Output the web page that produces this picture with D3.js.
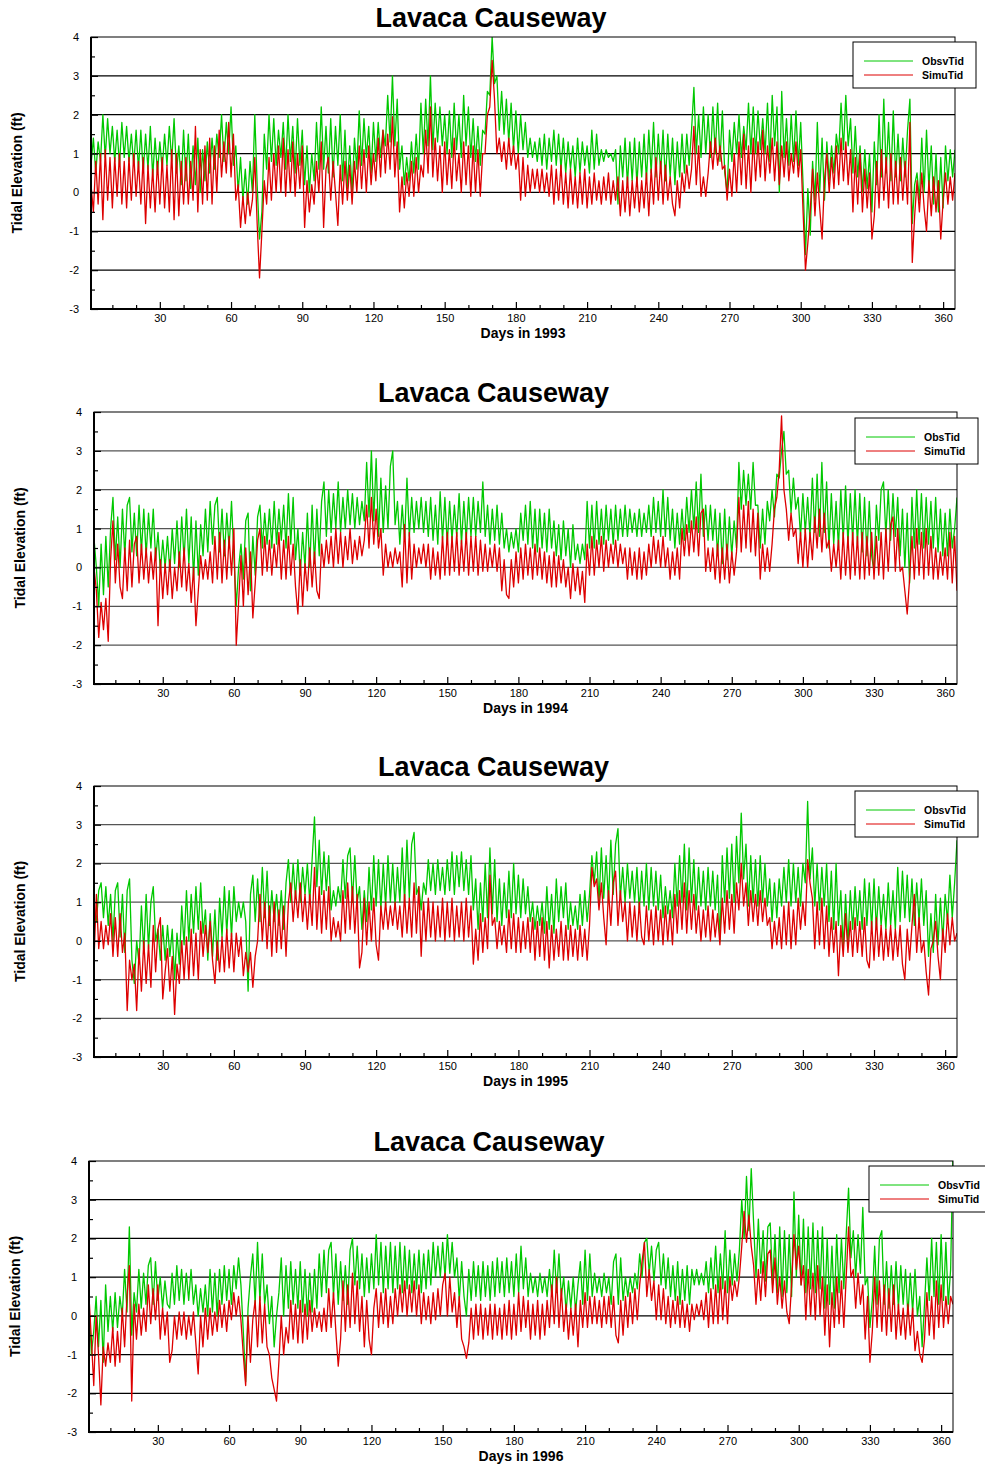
<!DOCTYPE html>
<html>
<head>
<meta charset="utf-8">
<script src="https://cdn.jsdelivr.net/npm/d3@7"></script>
<style>
  body { margin: 0; background: #fff; }
  svg { display: block; font-family: Arial, "Liberation Sans", sans-serif; }
</style>
</head>
<body>
<svg width="985" height="1468"></svg>
<script>
// Données : une valeur par jour (1 à 365), en pieds
const title = "Lavaca Causeway";
const xTicks = [30, 60, 90, 120, 150, 180, 210, 240, 270, 300, 330, 360];
const yTicks = [-3, -2, -1, 0, 1, 2, 3, 4];
const obsNames = ["ObsvTid", "ObsTid", "ObsvTid", "ObsvTid"];
const simName = "SimuTid";

const obs1993 = [
  0.7, 1.4, 0.5, 1.3, 0.8, 2.0, 0.9, 1.9, 1.0, 1.7,
  0.8, 1.6, 0.7, 1.8, 0.9, 1.7, 0.8, 1.5, 0.7, 1.6,
  0.6, 1.6, 0.5, 1.5, 0.6, 1.7, 0.4, 1.4, 0.5, 1.3,
  0.6, 1.5, 0.7, 1.7, 0.8, 1.9, 0.5, 1.2, 0.2, 1.6,
  0.3, 1.5, 0.1, 1.2, 0.2, 1.4, 0.0, 1.1, 0.3, 1.3,
  0.5, 1.4, 0.6, 1.5, 0.9, 2.0, 0.8, 1.8, 1.0, 2.2,
  0.7, 1.2, 0.0, 0.9, -0.2, 0.6, -0.3, 0.8, 0.0, 2.0,
  0.2, -1.2, -0.5, 1.5, 0.6, 2.0, 0.8, 1.9, 0.7, 1.6,
  0.9, 1.8, 0.6, 2.0, 0.8, 1.7, 0.5, 1.9, 0.7, 1.6,
  0.2, 1.2, 0.0, 1.0, 0.3, 1.8, 0.6, 2.2, 0.6, 1.7,
  0.5, 1.9, 0.4, 1.7, 0.7, 2.0, 0.3, 1.6, 0.1, 1.2,
  0.0, 1.4, 0.6, 2.1, 0.7, 1.9, 0.9, 1.7, 0.5, 1.8,
  0.8, 1.8, 0.9, 1.6, 1.2, 2.5, 1.3, 3.0, 1.2, 2.4,
  0.6, 1.2, 0.2, 0.9, 0.3, 1.3, 0.5, 1.5, 0.6, 2.3,
  1.0, 2.4, 1.2, 3.0, 1.1, 2.3, 1.3, 2.2, 1.2, 2.0,
  1.0, 2.1, 0.9, 2.3, 1.1, 2.0, 0.9, 2.5, 1.2, 2.2,
  0.9, 1.9, 0.8, 1.7, 0.7, 1.6, 1.5, 2.6, 2.5, 4.0,
  2.8, 3.0, 1.6, 2.6, 1.5, 2.4, 1.3, 2.3, 1.1, 2.1,
  1.0, 2.0, 1.1, 1.8, 0.9, 1.4, 0.9, 1.3, 0.8, 1.4,
  0.7, 1.5, 0.6, 1.4, 0.8, 1.6, 0.7, 1.5, 0.6, 1.4,
  0.5, 1.3, 0.6, 1.2, 0.4, 1.4, 0.5, 1.3, 0.7, 1.2,
  0.5, 1.6, 0.6, 1.5, 0.7, 1.1, 0.8, 1.1, 0.9, 1.0,
  0.8, 1.1, -0.3, 1.2, 0.4, 1.4, 0.2, 1.3, 0.3, 1.4,
  0.2, 1.3, 0.4, 1.5, 0.3, 1.6, 0.5, 1.8, 0.4, 1.5,
  0.5, 1.6, 0.3, 1.5, 0.4, 1.4, 0.2, 1.3, 0.4, 1.5,
  0.5, 1.5, 0.7, 1.6, 2.7, 1.0, 2.0, 0.9, 2.2, 1.0,
  2.0, 0.9, 2.2, 1.0, 2.3, 0.8, 2.1, 0.5, 0.0, 1.6,
  0.8, 1.8, 1.0, 2.0, 0.9, 1.7, 1.1, 2.3, 1.0, 2.2,
  1.0, 2.1, 1.1, 1.9, 1.0, 2.3, 0.8, 2.5, 1.2, 2.2,
  0.0, 2.6, 0.9, 1.9, 0.7, 2.0, 0.8, 2.1, 0.7, 1.8,
  0.2, -1.6, 0.1, -1.1, 0.8, -0.2, 1.8, 0.0, 1.4, -0.2,
  1.3, 0.3, 1.2, 0.5, 1.5, 1.0, 2.3, 1.1, 2.5, 1.2,
  1.9, 0.5, 1.7, 0.4, 1.2, 0.0, 1.1, 0.1, 1.0, -0.5,
  1.3, 0.2, 2.0, 0.4, 2.4, 0.5, 1.8, 0.3, 2.1, 0.4,
  1.5, 0.3, 1.4, 0.4, 1.6, 2.4, -0.8, 0.2, 0.5, -0.2,
  1.4, 0.0, 1.6, 0.1, 1.2, -0.3, 1.0, -0.5, 0.9, -0.4,
  1.2, 0.3, 1.1, 0.4, 1.1
];
const sim1993 = [
  0.2, -0.5, 0.8, -0.3, 1.0, -0.7, 1.1, -0.2, 0.9, -0.4,
  0.9, -0.1, 1.0, -0.3, 0.8, -0.4, 0.9, -0.2, 1.0, -0.1,
  0.8, -0.3, 0.9, -0.8, 0.7, -0.4, 0.6, -0.5, 0.8, -0.3,
  0.9, -0.4, 0.7, -0.5, 1.1, -0.7, 1.0, -0.6, 0.8, -0.3,
  0.9, -0.3, 0.8, -0.2, 1.7, -0.5, 1.1, -0.3, 1.2, -0.2,
  1.4, -0.3, 1.2, 0.0, 1.6, 0.4, 1.3, 0.5, 1.8, 0.4,
  1.5, -0.2, 0.2, -0.9, -0.1, -0.8, 0.0, -0.6, -0.2, 0.9,
  -0.8, -2.2, -1.0, 0.3, -0.3, 0.9, -0.2, 1.0, 0.0, 1.2,
  0.0, 1.4, -0.1, 1.1, 0.0, 1.3, -0.1, 1.0, 0.1, 1.2,
  -0.9, 0.3, -0.5, 0.2, -0.3, 0.8, 0.0, 1.3, -0.9, 0.6,
  0.9, -0.2, 0.8, 0.0, -0.85, 0.7, -0.3, 0.8, -0.2, 0.7,
  -0.3, 0.8, 0.0, 1.2, 0.1, 1.1, 0.0, 1.2, 0.2, 1.0,
  0.3, 1.4, 0.4, 1.6, 0.5, 1.5, 0.6, 1.95, 0.4, 1.3,
  -0.5, 0.4, -0.4, 0.5, -0.1, 0.8, -0.1, 0.9, 0.0, 0.7,
  0.4, 1.6, 0.5, 2.2, 0.4, 1.4, 0.3, 1.2, 0.0, 1.3,
  0.2, 1.1, 0.1, 1.4, 0.3, 1.0, 0.0, 1.3, 0.2, 1.2,
  -0.1, 1.2, 0.0, 1.1, -0.1, 1.0, 1.0, 2.0, 2.2, 3.4,
  2.4, 1.0, 1.4, 0.8, 1.3, 0.6, 1.4, 0.7, 1.2, 0.6,
  1.0, -0.2, 0.9, -0.1, 0.7, 0.0, 0.6, 0.1, 0.6, 0.0,
  0.6, 0.0, 0.5, -0.1, 0.7, -0.3, 0.6, -0.2, 0.7, -0.3,
  0.5, -0.4, 0.6, -0.3, 0.4, -0.4, 0.5, -0.3, 0.6, -0.4,
  0.4, -0.3, 0.5, -0.2, 0.3, -0.3, 0.4, -0.2, 0.5, -0.3,
  0.3, -0.2, 0.4, -0.6, 0.3, -0.5, 0.4, -0.6, 0.3, -0.4,
  0.4, -0.5, 0.3, -0.4, 0.5, -0.6, 0.6, -0.3, 0.9, -0.2,
  0.8, -0.3, 0.7, -0.2, 0.4, -0.3, -0.6, 0.3, -0.4, 0.5,
  0.0, 0.7, 0.1, 0.6, 1.7, 0.2, 1.2, -0.1, 0.4, -0.1,
  0.5, 1.3, 0.6, 1.4, 0.7, 1.2, 0.6, 0.7, -0.2, 0.6,
  -0.1, 1.0, 0.0, 1.3, 0.2, 1.5, 0.1, 1.2, 0.0, 1.4,
  0.3, 1.3, 0.4, 1.6, 0.3, 1.2, 0.5, 1.4, 0.3, 1.3,
  0.2, 1.2, 0.4, 1.3, 0.3, 1.0, 0.5, 1.3, 0.4, 1.1,
  -0.5, -2.0, -1.3, -0.5, 0.6, -0.6, 0.5, -0.4, -1.2, 0.3,
  1.0, 0.0, 0.9, 0.1, 1.2, 0.2, 1.4, 0.3, 1.3, 0.2,
  1.1, -0.5, 0.9, -0.3, 1.0, -0.5, 0.6, -0.4, 0.5, -1.2,
  -0.6, 0.8, -0.4, 1.1, -0.2, 0.9, -0.4, 1.0, -0.3, 0.8,
  -0.3, 0.9, -0.2, 0.8, -0.3, 1.8, -1.8, -0.6, 0.3, -0.5,
  0.5, -0.4, -1.0, 0.3, -0.6, 0.4, -0.5, 0.3, -1.2, -0.2,
  0.5, -0.3, 0.4, -0.2, 0.5
];

const obs1994 = [
  0.75, 0.0, -1.0, 0.6, -0.7, 0.8, -0.5, 1.0, 1.8, 0.2,
  1.3, 0.0, 1.5, 0.3, 1.6, 1.8, 0.4, 1.4, 0.3, 1.6,
  0.4, 1.5, 0.3, 1.4, 0.5, 1.5, 0.2, 0.9, -0.1, 0.7,
  0.0, 0.8, -0.1, 1.0, 0.1, 1.2, 0.0, 1.3, 0.2, 1.5,
  0.1, 1.3, -0.3, 1.2, -0.2, 1.1, 0.3, 1.5, 0.4, 1.7,
  0.6, 1.6, 1.8, 0.4, 1.5, 0.3, 1.4, 0.5, 1.7, 0.3,
  -1.0, 0.0, 0.6, -0.3, 1.2, 1.4, -0.6, 0.8, -0.2, 1.3,
  1.6, 0.5, 1.4, 0.6, 1.5, 0.5, 1.7, 0.6, 1.5, 0.7,
  1.6, 0.5, 1.9, 0.6, 1.8, 0.2, 1.0, -0.2, 0.9, 0.0,
  1.4, 0.0, 1.6, 0.1, 1.5, 0.3, 1.7, 2.2, 0.8, 2.0,
  0.9, 1.9, 1.0, 2.2, 0.9, 1.8, 1.0, 2.0, 1.1, 1.9,
  1.0, 1.8, 1.1, 1.7, 1.2, 2.7, 1.3, 3.0, 1.2, 2.8,
  0.8, 2.3, 0.9, 2.1, 1.0, 2.6, 3.0, 1.1, 1.7, 0.6,
  1.6, 0.7, 2.3, 0.8, 1.8, 0.9, 1.7, 1.0, 1.8, 0.9,
  1.7, 0.8, 1.8, 0.7, 1.6, 0.6, 1.95, 0.7, 1.8, 0.6,
  1.7, 0.7, 1.6, 0.8, 1.9, 0.6, 1.7, 0.7, 1.8, 0.8,
  1.8, 0.8, 1.7, 0.9, 2.2, 0.8, 1.6, 0.6, 1.5, 0.7,
  1.6, 0.6, 1.4, 0.5, 1.0, 0.4, 0.9, 0.5, 1.0, 0.4,
  1.4, 0.7, 1.6, 0.6, 1.7, 0.5, 1.5, 0.4, 1.5, 0.5,
  1.4, 0.4, 1.5, 0.5, 1.2, 0.3, 1.1, 0.2, 1.2, 0.3,
  1.0, 0.0, 1.1, 0.2, 0.6, 0.1, 0.6, 0.2, 1.7, 0.5,
  1.6, 0.5, 1.7, 0.6, 1.5, 0.6, 1.6, 0.7, 1.5, 0.6,
  1.6, 0.7, 1.5, 0.8, 1.6, 0.8, 1.5, 0.9, 1.4, 0.8,
  1.5, 0.8, 1.4, 0.9, 1.6, 0.8, 1.8, 0.9, 1.7, 0.8,
  2.0, 0.8, 1.8, 0.7, 1.5, 0.5, 1.4, 0.6, 1.5, 0.7,
  1.8, 0.9, 2.0, 1.0, 2.2, 0.9, 2.4, 0.8, 1.6, 0.7,
  1.6, 0.7, 1.5, 0.3, 1.4, 0.1, 1.5, 0.2, 1.3, 0.3,
  1.2, 0.5, 2.7, 1.5, 2.5, 1.6, 2.4, 1.5, 2.7, 1.6,
  1.6, 0.5, 1.5, 0.6, 1.7, 1.2, 2.0, 1.3, 2.4, 2.3,
  3.0, 3.5, 2.4, 2.5, 1.4, 2.3, 1.5, 1.8, 0.8, 1.9,
  0.9, 1.8, 0.8, 2.3, 0.9, 2.4, 0.8, 2.7, 0.9, 2.2,
  0.5, 1.9, 0.6, 1.7, 0.5, 2.0, 0.7, 2.1, 0.6, 1.9,
  0.7, 2.0, 0.6, 1.9, 0.4, 1.8, 0.3, 1.7, 0.3, -0.1,
  1.6, 0.7, 2.0, 2.2, 0.8, 2.0, 0.7, 1.9, 0.8, 1.8,
  0.3, 1.5, 0.0, 1.4, -0.4, 1.8, 0.5, 2.0, 0.6, 1.9,
  0.5, 1.8, 0.6, 1.7, 0.5, 1.8, 0.4, 1.5, 0.3, 1.4,
  0.3, 1.5, 0.5, 1.0, 1.8
];
const sim1994 = [
  0.0, -0.6, -1.8, -0.9, -1.6, -0.8, -1.9, 0.2, 1.2, -0.4,
  0.6, -0.5, -0.8, 0.5, -0.6, 0.7, -0.5, 0.6, 0.8, -0.4,
  0.6, -0.3, 0.5, -0.4, 0.4, -0.3, 0.5, -1.5, 0.2, -0.8,
  0.1, -0.7, 0.2, -0.8, 0.0, -0.6, 0.4, -0.5, 0.5, -0.6,
  0.1, -0.9, 0.0, -1.5, -0.6, 0.3, -0.3, 0.2, -0.3, 0.4,
  -0.4, 0.8, -0.3, 0.9, -0.4, 0.7, -0.3, 0.8, -0.2, 1.0,
  -2.0, -0.9, 0.3, -1.0, 0.5, -0.7, 0.4, -1.3, -0.4, 0.7,
  1.0, -0.2, 0.8, -0.1, 0.7, -0.2, 0.6, 0.0, 0.9, -0.3,
  0.7, -0.3, 0.8, -0.2, 0.6, -0.5, -1.2, 0.2, -1.0, 0.1,
  -0.6, 0.5, -0.5, 0.4, -0.6, -0.8, 0.6, 0.0, 0.7, 0.1,
  0.8, 0.0, 1.0, 0.1, 0.9, 0.0, 0.8, 0.2, 1.0, 0.1,
  0.7, 0.2, 0.8, 0.3, 0.7, 1.6, 0.5, 1.8, 0.6, 1.5,
  0.5, 1.0, -0.2, 0.6, 0.0, 0.4, 0.0, 0.5, 0.1, 0.4,
  -0.5, 1.1, -0.4, 0.9, -0.3, 0.6, 0.0, 0.5, 0.1, 0.6,
  0.0, 0.6, -0.3, 0.5, -0.2, 0.4, -0.3, 0.8, -0.2, 0.9,
  -0.2, 0.8, -0.1, 0.9, -0.2, 0.7, -0.1, 0.9, -0.2, 0.8,
  -0.1, 0.8, -0.2, 0.7, -0.1, 0.6, -0.1, 0.5, 0.0, 0.6,
  -0.1, 0.5, -0.6, 0.2, -0.7, -0.8, 0.2, -0.5, 0.4, -0.4,
  0.5, -0.3, 0.6, -0.2, 0.5, -0.3, 0.6, -0.2, 0.5, -0.3,
  0.4, -0.4, 0.3, -0.5, 0.4, -0.5, 0.3, -0.4, 0.2, -0.5,
  0.0, -0.8, 0.1, -0.6, 0.0, -0.7, -0.1, -0.9, 0.6, -0.2,
  0.8, -0.2, 0.7, 0.0, 0.8, -0.1, 0.7, 0.0, 0.6, 0.1,
  0.7, 0.0, 0.6, 0.1, 0.5, -0.3, 0.5, -0.2, 0.4, -0.3,
  0.5, -0.3, 0.4, -0.2, 0.6, 0.0, 0.8, 0.1, 0.7, 0.0,
  0.8, 0.0, 0.5, -0.3, 0.4, -0.2, 0.5, -0.3, 1.0, 0.3,
  1.1, 0.3, 1.2, 0.4, 1.3, 0.3, 1.4, 1.5, -0.1, 0.5,
  -0.1, 0.5, -0.3, 0.6, -0.4, 0.5, -0.3, 0.6, -0.4, 0.4,
  -0.2, 0.4, 1.8, 0.4, 1.6, 0.5, 1.7, 0.4, 1.5, 0.3,
  1.4, -0.3, 0.6, -0.1, 0.5, -0.1, 0.6, 1.5, 1.8, 2.5,
  3.9, 2.0, 1.5, 0.7, 1.4, 0.8, 1.0, 0.1, 0.9, 0.0,
  1.0, 0.0, 0.9, 0.2, 1.3, 0.5, 1.5, 0.4, 1.4, 0.5,
  0.7, -0.1, 0.6, 0.0, 0.7, -0.3, 0.9, -0.2, 0.8, -0.3,
  0.9, -0.2, 0.8, -0.3, 0.9, -0.3, 0.8, -0.2, 0.9, -0.3,
  0.8, -0.2, 0.9, -0.3, 1.0, -0.1, 1.1, 1.3, -0.1, 1.0,
  -0.1, 0.0, -0.6, -1.2, -0.3, 0.8, -0.3, 1.0, -0.2, 0.9,
  -0.3, 1.0, -0.2, 0.8, -0.3, 0.5, -0.3, 0.4, -0.2, 0.5,
  -0.3, 0.9, -0.4, 0.8, -0.6
];

const obs1995 = [
  0.9, 0.5, 1.3, 1.5, 0.6, 1.4, 0.4, 1.2, 0.0, 1.3,
  1.5, 0.1, 1.2, -0.3, 1.3, 1.6, -0.5, -1.1, 0.0, -0.6,
  0.9, -0.3, 1.2, -0.2, 1.0, 1.4, 0.0, 0.3, -0.5, 0.4,
  -0.5, 0.4, -0.4, 0.3, -1.0, 0.2, -0.6, 0.9, -0.1, 1.3,
  0.0, 1.2, 0.2, 1.4, 0.3, 1.5, 0.2, 0.8, -0.5, 0.7,
  -0.4, 0.8, -0.5, 1.1, 0.1, 1.4, 0.2, 1.3, 0.1, 1.4,
  0.5, 1.0, 0.6, 1.0, 0.5, -1.3, 1.2, 1.7, 0.5, 1.6,
  0.5, 1.9, 0.6, 1.8, 0.4, 1.3, 0.5, 1.2, 0.4, 1.3,
  0.3, 1.5, 2.1, 1.0, 2.0, 1.1, 2.1, 1.0, 1.9, 1.2,
  2.0, 1.0, 2.1, 3.2, 1.4, 2.6, 1.2, 2.3, 1.3, 2.2,
  0.8, 1.3, 0.9, 1.4, 1.0, 2.1, 1.1, 2.2, 2.4, 1.0,
  2.2, 1.0, 1.4, 0.3, 1.3, 0.5, 1.9, 0.8, 2.2, 0.9,
  2.1, 0.8, 2.0, 0.9, 2.2, 1.0, 2.0, 0.9, 1.9, 1.0,
  2.4, 1.0, 2.6, 1.1, 2.5, 2.8, 1.2, 1.4, 0.8, 1.5,
  1.2, 2.1, 1.3, 2.0, 1.2, 2.1, 1.3, 1.9, 1.2, 2.1,
  1.3, 2.3, 1.2, 2.2, 1.4, 2.3, 1.3, 2.1, 1.2, 2.2,
  0.8, 1.6, 0.3, 1.5, 0.5, 2.0, 0.6, 2.4, 0.7, 2.1,
  0.5, 1.6, 0.4, 1.5, 0.6, 1.8, 0.6, 2.0, 0.7, 1.7,
  0.6, 1.6, 0.7, 1.4, 0.5, 1.0, 0.3, 0.9, 0.4, 1.0,
  0.2, 1.4, 0.3, 1.2, 0.2, 1.6, 0.5, 1.4, 0.6, 1.5,
  0.3, 1.0, 0.4, 0.9, 0.3, 1.2, 0.4, 1.3, 0.5, 1.2,
  2.2, 1.5, 2.3, 1.0, 2.4, 1.1, 2.2, 1.0, 2.6, 1.2,
  2.5, 2.9, 1.1, 1.9, 1.0, 2.0, 1.1, 1.8, 1.0, 1.9,
  0.8, 1.8, 0.9, 2.0, 0.8, 1.9, 0.9, 1.8, 0.8, 1.7,
  0.6, 1.4, 0.7, 1.3, 0.6, 2.0, 0.9, 2.2, 1.0, 2.5,
  0.8, 2.4, 1.0, 2.1, 0.8, 1.9, 0.9, 1.8, 0.8, 1.9,
  0.9, 1.8, 0.8, 1.7, 0.0, 2.2, 1.0, 2.4, 1.1, 2.5,
  1.0, 2.7, 1.5, 3.3, 1.6, 2.5, 0.9, 2.2, 1.0, 2.1,
  0.9, 2.2, 1.0, 2.0, 0.9, 1.6, 0.5, 1.5, 0.6, 1.6,
  0.9, 1.9, 1.0, 2.1, 0.9, 2.0, 1.0, 1.9, 0.9, 2.0,
  1.5, 3.6, 1.6, 2.4, 0.9, 2.0, 0.8, 1.9, 0.9, 2.0,
  0.5, 1.8, 0.3, 2.0, 0.4, 1.3, -0.2, 1.2, -0.1, 1.3,
  0.3, 1.4, 0.4, 1.3, 0.3, 1.6, 0.4, 1.5, 0.3, 1.6,
  0.3, 1.4, 0.4, 1.2, 0.3, 1.5, 0.4, 1.3, 0.3, 1.9,
  0.5, 1.8, 0.6, 1.7, 0.5, 1.6, 0.4, 1.5, 0.5, 1.6,
  0.4, 1.3, -0.4, 0.7, -0.3, 1.2, -0.1, 1.1, 0.0, 1.2,
  0.5, 1.7, 0.6, 1.5, 2.6
];
const sim1995 = [
  -0.5, 1.2, -0.2, 0.5, -0.2, 0.4, -0.1, 0.7, -0.4, 0.6,
  -0.4, 0.7, -0.3, 0.2, -1.8, -0.5, -1.0, -0.6, -1.8, -0.2,
  -1.3, 0.0, -1.1, -0.1, -1.2, 0.4, -0.8, 0.3, 0.6, -1.5,
  -0.8, -0.2, -1.3, -0.4, -1.9, -0.6, -1.1, 0.0, -1.0, 0.1,
  -1.0, 0.3, -0.9, 0.2, -1.0, 0.5, -0.4, 0.4, -0.3, 0.5,
  -0.5, -1.1, 0.0, -0.8, 0.1, -0.8, 0.3, -0.7, 0.2, -0.8,
  0.2, -0.4, 0.1, -0.9, -0.3, -0.8, -0.3, -1.2, -0.4, 0.0,
  1.2, 0.0, 1.0, -0.2, 0.9, -0.4, 1.0, -0.3, 0.8, -0.2,
  0.9, -0.4, 1.0, 1.5, 0.5, 1.3, 0.6, 1.5, 0.5, 1.2,
  0.3, 1.2, 0.4, 1.9, 0.3, 1.4, 0.2, 1.3, 0.3, 1.4,
  0.0, 0.6, 0.1, 0.5, 0.0, 1.3, 0.2, 1.5, 0.3, 1.4,
  0.2, 1.2, -0.7, -0.3, 1.1, -0.1, 1.0, 0.0, 1.1, -0.1,
  -0.5, 0.9, 0.3, 1.0, 0.3, 0.9, 0.4, 1.0, 0.3, 0.9,
  0.1, 1.2, 0.2, 1.1, 0.1, 1.5, 0.2, 1.4, -0.4, 1.0,
  0.0, 1.1, 0.1, 1.0, 0.0, 0.9, 0.1, 1.1, 0.0, 1.0,
  0.1, 1.1, 0.0, 0.9, 0.1, 1.0, 0.0, 1.1, 0.1, 0.9,
  -0.6, 0.3, -0.5, 0.7, -0.3, 0.6, -0.2, 1.7, 0.4, 0.6,
  -0.2, 0.5, -0.1, 0.4, -0.3, 0.8, -0.2, 0.7, -0.3, 0.6,
  -0.3, 0.5, -0.2, 0.6, -0.3, 0.6, -0.5, 0.5, -0.4, 0.6,
  -0.5, 0.5, -0.7, 0.4, -0.5, 0.3, -0.4, 0.5, -0.5, 0.4,
  -0.5, 0.4, -0.4, 0.3, -0.5, 0.4, -0.4, 0.3, -0.5, 0.4,
  1.9, 1.4, 1.6, 0.8, 1.5, 0.6, -0.1, 1.3, 0.4, 1.5,
  1.8, 0.4, 1.3, 0.5, 1.0, 0.0, 1.0, 0.1, 0.9, 0.0,
  1.0, 0.1, -0.1, 0.9, 0.0, 0.8, -0.1, 0.9, 0.0, 0.8,
  -0.1, 0.9, 0.0, 0.8, -0.1, 1.2, 0.2, 1.3, 0.3, 1.5,
  0.2, 1.3, 0.3, 1.2, 0.2, 0.9, 0.0, 0.8, 0.1, 0.9,
  0.0, 0.8, 0.1, 0.7, -0.1, 1.1, 0.2, 1.3, 0.3, 1.2,
  0.2, 1.5, 0.8, 2.0, 0.9, 1.5, 0.4, 1.3, 0.5, 1.2,
  0.4, 1.3, 0.5, 1.1, 0.4, 0.6, -0.2, 0.5, -0.1, 0.6,
  -0.2, 0.9, -0.1, 1.0, -0.2, 0.8, -0.1, 1.1, 0.3, 1.0,
  0.4, 2.1, 1.5, 1.1, -0.2, 1.0, -0.1, 1.1, -0.2, 0.9,
  -0.4, 0.6, -0.3, 0.5, -0.9, 0.4, -0.4, 0.7, -0.3, 0.5,
  -0.4, 0.6, -0.3, 0.5, -0.4, 0.6, -0.5, -0.7, 0.5, -0.5,
  0.6, -0.4, 0.4, -0.5, 0.3, -0.4, 0.4, -0.5, 0.3, -0.4,
  0.4, -0.6, -1.0, 0.3, -0.5, 0.4, 1.2, -0.3, 0.6, -0.3,
  0.0, -0.8, -1.4, -0.2, 0.0, 0.5, -0.4, -1.0, 0.3, -0.3,
  0.7, -0.1, 0.6, 0.0, 0.2
];

const obs1996 = [
  0.3, -1.0, -0.4, 0.5, -0.8, 0.4, -1.2, 0.8, -0.4, 0.5,
  -0.4, 0.6, -0.3, 0.5, 0.0, 1.2, 0.1, 2.3, -0.5, 0.6,
  0.1, 1.2, 0.2, 1.1, 0.3, 1.3, 1.5, 0.3, 1.4, 0.4,
  1.0, 0.2, 0.9, 0.3, 0.2, 1.1, 0.3, 1.3, 0.4, 1.2,
  0.3, 1.1, 0.4, 1.2, 0.3, 0.8, 0.0, 0.7, 0.1, 0.8,
  0.0, 1.2, 0.1, 1.1, 0.0, 1.2, 0.3, 1.3, 0.4, 1.2,
  0.3, 1.3, 0.7, 1.5, 0.8, -0.4, -1.7, 0.2, 1.0, 1.6,
  0.3, 1.9, 0.4, 1.6, 0.3, 0.8, -0.2, 0.5, -0.8, 0.0,
  0.6, 1.5, 0.0, 1.3, 0.2, 1.4, 0.3, 1.2, 0.2, 1.4,
  0.1, 1.2, 0.0, 1.1, 0.1, 1.2, 0.2, 1.6, 0.5, 1.7,
  0.6, 1.7, 1.9, 0.5, 1.6, 0.3, 1.4, 0.4, 1.3, 0.3,
  1.7, 2.0, 0.8, 1.8, 0.7, 1.6, 0.5, 1.5, 0.6, 1.6,
  0.7, 2.1, 0.8, 1.9, 0.6, 1.8, 0.7, 1.9, 0.6, 1.8,
  0.7, 1.9, 0.6, 1.8, 0.7, 1.7, 0.6, 1.6, 0.7, 1.7,
  0.6, 1.6, 0.7, 1.7, 0.8, 1.9, 1.0, 1.8, 1.0, 1.9,
  1.0, 2.1, 1.1, 1.9, 1.0, 1.5, 0.4, 1.4, 0.5, 0.0,
  1.2, 0.4, 1.4, 0.5, 1.3, 0.4, 1.4, 0.5, 1.3, 0.4,
  1.4, 0.5, 1.5, 0.6, 1.4, 0.5, 1.5, 0.6, 1.4, 0.5,
  1.6, 0.6, 1.8, 0.7, 1.5, 0.5, 1.1, 0.6, 1.0, 0.5,
  1.1, 0.6, 1.0, 0.5, 1.2, 0.5, 1.7, 0.6, 1.6, 0.5,
  1.0, 0.1, 0.9, 0.2, 1.0, 0.1, 0.8, 1.4, 0.3, 1.7,
  0.4, 1.6, 0.5, 1.1, 0.6, 1.0, 0.5, 1.1, 0.6, 1.0,
  0.3, 1.4, 1.6, 0.3, 1.5, 0.4, 1.0, 0.5, 1.0, 0.6,
  1.1, 0.7, 1.6, 1.0, 1.9, 2.0, 1.1, 1.8, 0.9, 1.7,
  1.9, 0.8, 1.6, 0.7, 1.5, 0.5, 1.3, 0.4, 1.4, 0.3,
  1.2, 0.4, 1.3, 0.3, 1.2, 0.8, 1.2, 0.8, 1.1, 0.8,
  1.4, 0.6, 1.5, 0.7, 1.8, 0.6, 1.6, 0.7, 2.2, 0.6,
  1.7, 0.8, 1.6, 0.9, 1.7, 3.0, 2.0, 3.6, 2.2, 3.8,
  2.4, 1.0, 2.5, 1.1, 2.2, 0.9, 2.3, 2.4, 0.8, 2.1,
  0.6, 2.3, 0.5, 2.2, 0.6, 2.1, 0.5, 3.2, 1.0, 2.6,
  0.8, 2.5, 0.6, 2.3, 0.7, 2.4, 0.6, 2.2, 0.7, 2.3,
  0.2, 2.0, 0.3, 1.8, 0.2, 2.1, 0.6, 2.0, 0.7, 2.1,
  3.3, 1.5, 2.2, 1.0, 2.1, 1.1, 2.8, 0.8, 1.0, -0.3,
  0.4, 1.8, 0.3, 2.0, 2.2, 0.3, 1.4, 0.2, 1.3, 0.3,
  1.4, 0.2, 1.3, 0.3, 1.2, 0.0, 1.1, 0.1, 1.2, 0.0,
  0.5, -0.8, 0.3, 1.5, 0.4, 2.0, 0.5, 1.9, 0.3, 2.1,
  0.4, 1.9, 0.3, 1.2, 4.2
];
const sim1996 = [
  0.5, -0.6, -1.8, 0.0, -1.0, -2.3, -0.8, -1.3, -0.7, -1.2,
  -0.3, -1.3, -0.4, -1.2, 0.2, -0.8, 0.5, 1.3, -2.2, 0.3,
  -0.6, 0.3, -0.5, 0.2, -0.4, 0.8, -0.2, 0.7, -0.1, 0.8,
  -0.6, 0.2, -0.5, 0.1, -1.2, -0.9, 0.0, -0.6, 0.1, -0.5,
  0.1, -0.6, 0.0, -0.5, 0.1, -0.7, -1.5, 0.0, -0.8, 0.2,
  -0.6, 0.2, -0.5, 0.1, -0.4, 0.4, -0.3, 0.3, -0.4, 0.4,
  -0.1, 0.6, 0.0, 0.5, -0.1, -1.0, -1.8, 0.0, -1.2, -0.1,
  0.4, -0.8, 0.5, -0.7, 0.3, -0.8, -1.0, -1.6, -1.9, -2.2,
  -1.2, 0.0, -1.0, -0.3, -0.7, 0.4, -0.6, 0.3, -0.7, 0.4,
  -0.7, 0.3, -0.6, 0.4, -0.4, 0.2, -0.3, 0.1, -0.4, 0.2,
  -0.4, 0.7, -0.3, 0.6, -0.4, -1.3, -0.6, 0.9, -0.4, 0.8,
  -0.3, 1.1, -0.2, 0.9, -0.4, 0.5, -0.8, 0.4, -0.6, -1.0,
  0.2, 0.7, -0.3, 0.6, -0.2, 0.7, -0.3, 0.5, -0.2, 0.7,
  0.0, 0.8, 0.1, 0.9, 0.0, 0.8, 0.1, 0.9, 0.0, 0.8,
  -0.2, 0.6, -0.1, 0.5, -0.2, 0.6, -0.1, 0.7, 0.0, 0.8,
  1.1, 0.0, 1.0, 0.1, 0.6, -0.3, 0.5, -0.6, -0.8, -1.1,
  -0.7, 0.2, -0.6, 0.3, -0.5, 0.3, -0.6, 0.2, -0.5, 0.3,
  -0.6, 0.3, -0.5, 0.2, -0.6, 0.3, -0.5, 0.4, -0.6, 0.3,
  -0.5, 0.6, -0.4, 0.5, -0.3, 0.4, -0.6, 0.3, -0.5, 0.4,
  -0.6, 0.3, -0.5, 0.4, -0.3, 0.8, -0.2, 1.0, -0.3, 0.7,
  -0.4, 0.3, -0.6, 0.2, -0.5, 0.3, -0.8, 0.4, -0.3, 0.6,
  -0.3, 0.5, -0.2, 0.5, -0.2, 0.4, -0.3, 0.5, -0.2, 0.5,
  -0.3, 0.5, -0.5, -0.7, 0.4, -0.5, 0.5, -0.3, 0.6, -0.2,
  0.7, -0.1, 0.8, 1.4, 1.9, 0.5, 1.2, 0.4, 0.9, -0.1,
  0.8, -0.1, 0.7, -0.2, 0.5, -0.3, 0.4, -0.2, 0.5, -0.3,
  0.4, -0.3, 0.3, -0.4, 0.3, -0.1, 0.3, 0.0, 0.4, -0.1,
  0.6, -0.3, 0.7, -0.2, 0.8, -0.2, 1.0, -0.1, 0.9, -0.2,
  1.0, 0.4, 0.9, 0.5, 1.0, 1.8, 2.7, 1.9, 2.6, 1.8,
  1.3, 0.3, 1.2, 0.4, 1.4, 0.5, 1.6, 1.7, 0.6, 1.5,
  0.3, 1.0, 0.2, 0.9, 0.1, -0.2, 0.8, 2.1, 1.2, 1.8,
  0.8, 1.3, -0.1, 1.2, 0.0, 1.1, -0.1, 1.3, 0.0, 1.0,
  -0.5, 0.8, -0.8, 0.6, -0.3, 1.0, -0.2, 0.9, -0.3, 1.0,
  2.3, 1.0, 1.2, 0.2, 1.1, 0.3, 0.8, -0.6, 0.5, -1.2,
  -0.4, 1.0, -0.3, 0.9, -0.4, 0.8, -0.5, 0.7, -0.4, 0.8,
  -0.6, 0.3, -0.5, 0.2, -0.6, 0.3, -0.5, 0.2, -0.9, -0.4,
  -1.0, -1.2, -0.6, 0.6, -0.5, 0.5, -0.6, 0.9, -0.3, 0.8,
  -0.3, 0.5, -0.2, 0.5, 0.3
];

/*----------- Mise en page des 4 graphes ----------- */
const panels = [
  { year: 1993, obs: obs1993, sim: sim1993, left: 91, right: 955, top: 37, bottom: 309, grid: "#000", legend: [853, 42] },
  { year: 1994, obs: obs1994, sim: sim1994, left: 94, right: 957, top: 412, bottom: 684, grid: "#555", legend: [855, 418] },
  { year: 1995, obs: obs1995, sim: sim1995, left: 94, right: 957, top: 786, bottom: 1057, grid: "#555", legend: [855, 791] },
  { year: 1996, obs: obs1996, sim: sim1996, left: 89, right: 953, top: 1161, bottom: 1432, grid: "#000", legend: [869, 1166] },
];

const greenCol = "#00c800";
const redCol = "#dd0000";
const svg = d3.select("svg");

panels.forEach((p, k) => {
  const x = d3.scaleLinear().domain([1, 365]).range([p.left, p.right]);
  const y = d3.scaleLinear().domain([-3, 4]).range([p.bottom, p.top]);
  const g = svg.append("g");

  // titre
  g.append("text")
    .attr("x", (p.left + p.right) / 2 - 32)
    .attr("y", p.top - 10)
    .attr("text-anchor", "middle")
    .attr("font-size", 27)
    .attr("font-weight", "bold")
    .text(title);

  // lignes horizontales aux valeurs entières
  g.selectAll(".grid")
    .data(yTicks.filter((v) => v > -3 && v < 4))
    .join("line")
    .attr("x1", p.left)
    .attr("x2", p.right)
    .attr("y1", (d) => y(d))
    .attr("y2", (d) => y(d))
    .attr("stroke", p.grid)
    .attr("stroke-width", 1.2);

  // zone de clip pour les courbes
  const clipId = "clip" + p.year;
  svg.append("clipPath").attr("id", clipId)
    .append("rect")
    .attr("x", p.left).attr("y", p.top)
    .attr("width", p.right - p.left).attr("height", p.bottom - p.top);

  const line = d3.line()
    .x((d, i) => x(i + 1))
    .y((d) => y(d));

  g.append("path")
    .datum(p.obs)
    .attr("clip-path", "url(#" + clipId + ")")
    .attr("fill", "none")
    .attr("stroke", greenCol)
    .attr("stroke-width", 1.3)
    .attr("stroke-linejoin", "round")
    .attr("d", line);

  g.append("path")
    .datum(p.sim)
    .attr("clip-path", "url(#" + clipId + ")")
    .attr("fill", "none")
    .attr("stroke", redCol)
    .attr("stroke-width", 1.3)
    .attr("stroke-linejoin", "round")
    .attr("d", line);

  // cadre
  g.append("rect")
    .attr("x", p.left).attr("y", p.top)
    .attr("width", p.right - p.left).attr("height", p.bottom - p.top)
    .attr("fill", "none").attr("stroke", "#000").attr("stroke-width", 1);

  // axes x : graduations principales et secondaires vers l'intérieur
  const xAxis = d3.axisBottom(x).tickValues(xTicks).tickSize(-7).tickPadding(5);
  const gx = g.append("g").attr("transform", "translate(0," + p.bottom + ")").call(xAxis);
  const xMinor = d3.range(10, 365, 10).filter((v) => v % 30 !== 0);
  const gx2 = g.append("g").attr("transform", "translate(0," + p.bottom + ")")
    .call(d3.axisBottom(x).tickValues(xMinor).tickSize(-4).tickFormat(""));

  // étiquettes y en entiers avec un tiret simple
  const yAxis = d3.axisLeft(y).tickValues(yTicks).tickSize(-7).tickPadding(12)
    .tickFormat((d) => String(d));
  const gy = g.append("g").attr("transform", "translate(" + p.left + ",0)").call(yAxis);
  const yMinor = d3.range(-2.5, 4, 1);
  const gy2 = g.append("g").attr("transform", "translate(" + p.left + ",0)")
    .call(d3.axisLeft(y).tickValues(yMinor).tickSize(-4).tickFormat(""));

  [gx, gx2, gy, gy2].forEach((a) => {
    a.select(".domain").remove();
    a.selectAll("line").attr("stroke", "#000").attr("stroke-width", 1.2);
    a.selectAll("text").attr("font-size", 11).attr("fill", "#000")
      .attr("font-family", "Arial, 'Liberation Sans', sans-serif");
  });

  // axes gauche et bas plus épais
  g.append("line").attr("x1", p.left).attr("x2", p.left).attr("y1", p.top).attr("y2", p.bottom + 1)
    .attr("stroke", "#000").attr("stroke-width", 2);
  g.append("line").attr("x1", p.left - 1).attr("x2", p.right).attr("y1", p.bottom).attr("y2", p.bottom)
    .attr("stroke", "#000").attr("stroke-width", 2);

  // titres des axes
  g.append("text")
    .attr("x", (p.left + p.right) / 2)
    .attr("y", p.bottom + 29)
    .attr("text-anchor", "middle")
    .attr("font-size", 14)
    .attr("font-weight", "bold")
    .text("Days in " + p.year);

  g.append("text")
    .attr("transform", "translate(" + (p.left - 69) + "," + (p.top + p.bottom) / 2 + ") rotate(-90)")
    .attr("text-anchor", "middle")
    .attr("font-size", 14)
    .attr("font-weight", "bold")
    .text("Tidal Elevation (ft)");

  // légende
  const [lx, ly] = p.legend;
  const lg = g.append("g").attr("transform", "translate(" + lx + "," + ly + ")");
  lg.append("rect").attr("width", 123).attr("height", 46)
    .attr("fill", "#fff").attr("stroke", "#000").attr("stroke-width", 1);
  const items = [
    { name: obsNames[k], color: greenCol },
    { name: simName, color: redCol },
  ];
  items.forEach((it, i) => {
    lg.append("line")
      .attr("x1", 11).attr("x2", 60)
      .attr("y1", 19 + i * 14).attr("y2", 19 + i * 14)
      .attr("stroke", it.color).attr("stroke-width", 1);
    lg.append("text")
      .attr("x", 69).attr("y", 23 + i * 14)
      .attr("font-size", 10.5)
      .attr("font-weight", "bold")
      .text(it.name);
  });
});
</script>
</body>
</html>
